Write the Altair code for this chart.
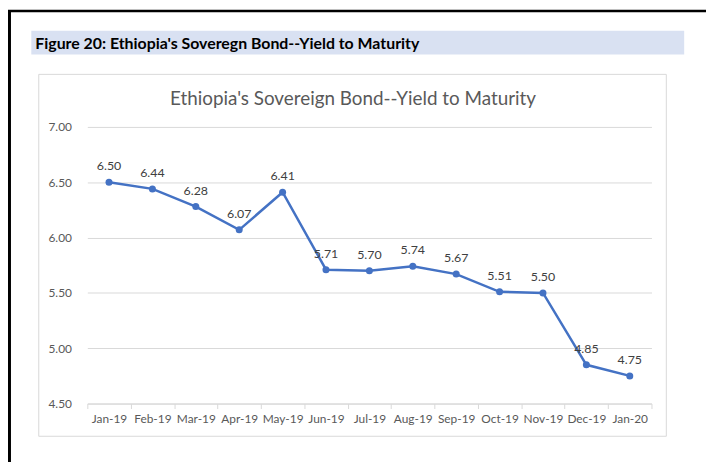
import altair as alt
import pandas as pd

months = ["Jan-19", "Feb-19", "Mar-19", "Apr-19", "May-19", "Jun-19", "Jul-19",
          "Aug-19", "Sep-19", "Oct-19", "Nov-19", "Dec-19", "Jan-20"]
yields = [6.50, 6.44, 6.28, 6.07, 6.41, 5.71, 5.70, 5.74, 5.67, 5.51, 5.50, 4.85, 4.75]
y_ticks = [4.5, 5.0, 5.5, 6.0, 6.5, 7.0]

fig_title = "Figure 20: Ethiopia's Soveregn Bond--Yield to Maturity"
chart_title = "Ethiopia's Sovereign Bond--Yield to Maturity"

df = pd.DataFrame({"month": months, "value": yields})
one = alt.Data(values=[{"a": 1}])

FONT = "Lato"
BLUE = "#4472C4"
GRID = "#D9D9D9"

x_enc = alt.X("month:N", sort=months, title=None,
              scale=alt.Scale(paddingInner=0, paddingOuter=0),
              axis=alt.Axis(labelAngle=0, domainColor=GRID, tickColor=GRID,
                            tickSize=5, tickBand="extent", labelPadding=5,
                            labelFontSize=12, labelColor="#595959", labelFont=FONT))
y_enc = alt.Y("value:Q", title=None,
              scale=alt.Scale(domain=[4.5, 7.0], nice=False, zero=False),
              axis=alt.Axis(values=y_ticks, format=".2f", domain=False, ticks=False,
                            gridColor=GRID, labelPadding=16, labelFontSize=12,
                            labelColor="#595959", labelFont=FONT))

# decorative frame elements (layout only)
outer_left = alt.Chart(one).mark_rule(color="black", strokeWidth=3).encode(
    x=alt.value(-78.5), y=alt.value(-118), y2=alt.value(340))
outer_top = alt.Chart(one).mark_rule(color="black", strokeWidth=2.5).encode(
    x=alt.value(-80), x2=alt.value(630), y=alt.value(-117))
header = alt.Chart(one).mark_rect(color="#D9E1F2").encode(
    x=alt.value(-56.5), x2=alt.value(602), y=alt.value(-97), y2=alt.value(-73))
header_text = alt.Chart(one).mark_text(
    align="left", baseline="middle", font=FONT, fontSize=16, fontWeight="bold",
    color="black").encode(x=alt.value(-52.5), y=alt.value(-84), text=alt.value(fig_title))
box = alt.Chart(one).mark_rect(fill=None, fillOpacity=0, stroke=GRID, strokeWidth=1).encode(
    x=alt.value(-49), x2=alt.value(584), y=alt.value(-53), y2=alt.value(312))
title = alt.Chart(one).mark_text(
    align="center", baseline="middle", font=FONT, fontSize=19, color="#595959").encode(
    x=alt.value(268), y=alt.value(-28), text=alt.value(chart_title))

base = alt.Chart(df).encode(x=x_enc, y=y_enc)
line = base.mark_line(color=BLUE, strokeWidth=2.5)
pts = base.mark_circle(color=BLUE, size=50, opacity=1)
labels = base.mark_text(dy=-16, font=FONT, fontSize=12.5, color="#404040").encode(
    text=alt.Text("value:Q", format=".2f"))

chart = alt.layer(outer_left, outer_top, header, header_text, box, title,
                  line, pts, labels).properties(
    width=569, height=279,
    autosize=alt.AutoSizeParams(type="none"),
    padding={"left": 80, "top": 118, "right": 55, "bottom": 57},
    background="white",
).configure_view(stroke=None)

chart.save("out.html", embed_options={"renderer": "svg", "actions": False})
